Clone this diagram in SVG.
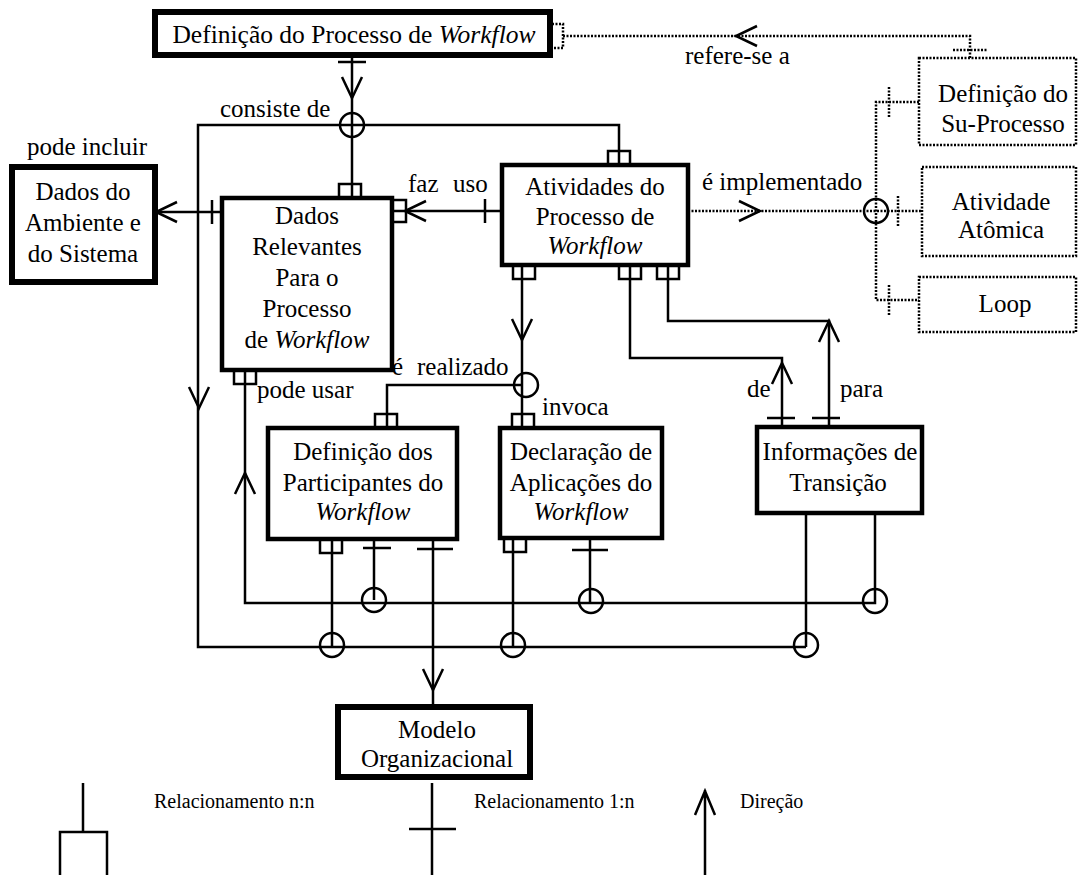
<svg xmlns="http://www.w3.org/2000/svg" width="1078" height="875" viewBox="0 0 1078 875" font-family="'Liberation Serif', 'Times New Roman', 'DejaVu Serif', serif">
<style>
  .bx{fill:#fff;stroke:#000;stroke-width:4.5}
  .bk{fill:#fff;stroke:#000;stroke-width:6}
  .db{fill:#fff;stroke:#000;stroke-width:2.5;stroke-dasharray:2 1.5}
  .dt{stroke-dasharray:2 1.5}
  text{font-family:'Liberation Serif','Times New Roman','DejaVu Serif',serif;font-size:25px;fill:#000}
  .m{text-anchor:middle}
  .i{font-style:italic}
  .lg{font-size:20px}
</style>
<defs>
  <!-- open arrowhead, tip at origin, pointing down -->
  <path id="hd" d="M-10,-21 L0,0 L10,-21"/>
  <!-- n:n foot, opening onto the box edge at y=0 -->
  <path id="nn" d="M-11,0 V-14 H11 V0"/>
  <!-- 1:n crossbar -->
  <path id="cb" d="M-14,0 H14"/>
  <circle id="ci" r="12"/>
</defs>

<rect width="1078" height="875" fill="#fff"/>

<g id="connectors" fill="none" stroke="#000" stroke-width="2.5">
  <!-- consiste de -->
  <path d="M352,55 V198"/>
  <use href="#cb" x="352" y="62"/>
  <use href="#hd" transform="translate(352,98)"/>
  <use href="#ci" x="352" y="125"/>
  <use href="#nn" transform="translate(350,198)"/>
  <path d="M806,647 H198 V125 H619 V165"/>
  <use href="#hd" transform="translate(199,408)"/>
  <use href="#nn" transform="translate(619,165)"/>

  <!-- pode incluir -->
  <path d="M222,212 H155"/>
  <path d="M212,200 V224"/>
  <use href="#hd" transform="translate(156,212) rotate(90)"/>

  <!-- faz uso -->
  <path d="M502,211 H392"/>
  <use href="#nn" transform="translate(392,211) rotate(90)"/>
  <use href="#hd" transform="translate(405,211) rotate(90)"/>
  <path d="M485,199 V223"/>

  <!-- é implementado (dotted) -->
  <path class="dt" d="M688,211 H922"/>
  <use href="#hd" transform="translate(760,211) rotate(-90)"/>
  <use href="#ci" x="876" y="211"/>
  <path class="dt" d="M898,196 V226"/>
  <path class="dt" d="M919,102 H876 V300 H919"/>
  <path class="dt" d="M889,87 V118"/>
  <path class="dt" d="M889,285 V316"/>

  <!-- refere-se a (dotted) -->
  <path class="dt" d="M552,24 H563 V48 H552 M563,36 H970 V58"/>
  <path class="dt" d="M953,50 H988"/>
  <use href="#hd" transform="translate(736,36) rotate(90)"/>

  <!-- é realizado / invoca -->
  <path d="M522,265 V428"/>
  <use href="#nn" transform="translate(524,265) rotate(180)"/>
  <use href="#hd" transform="translate(522,340)"/>
  <use href="#ci" x="526" y="385"/>
  <use href="#nn" transform="translate(523,428)"/>
  <path d="M522,385 H387 V428"/>
  <use href="#nn" transform="translate(386,428)"/>

  <!-- de / para -->
  <path d="M630,265 V358 H782 V427"/>
  <use href="#nn" transform="translate(630,265) rotate(180)"/>
  <use href="#hd" transform="translate(782,363) rotate(180)"/>
  <use href="#cb" x="781" y="418"/>
  <path d="M668,265 V321 H829 V427"/>
  <use href="#nn" transform="translate(668,265) rotate(180)"/>
  <use href="#hd" transform="translate(829,321) rotate(180)"/>
  <use href="#cb" x="826" y="418"/>

  <!-- pode usar -->
  <path d="M245,370 V603 H875 V513"/>
  <use href="#nn" transform="translate(245,370) rotate(180)"/>
  <use href="#hd" transform="translate(245,473) rotate(180)"/>

  <!-- participantes -->
  <path d="M374,539 V600"/>
  <use href="#cb" x="377" y="548"/>
  <use href="#ci" x="374" y="600"/>
  <path d="M332,539 V647"/>
  <use href="#nn" transform="translate(331,539) rotate(180)"/>
  <use href="#ci" x="332" y="645"/>
  <path d="M433,539 V707"/>
  <path d="M417,549 H453"/>
  <use href="#hd" transform="translate(433,690)"/>

  <!-- aplicações -->
  <path d="M513,538 V647"/>
  <use href="#nn" transform="translate(515,538) rotate(180)"/>
  <use href="#ci" x="513" y="645"/>
  <path d="M590,538 V603"/>
  <path d="M572,550 H608"/>
  <use href="#ci" x="591" y="601"/>

  <!-- transição -->
  <path d="M806,513 V647"/>
  <use href="#ci" x="806" y="645"/>
  <use href="#ci" x="875" y="601"/>
</g>

<g id="n-definicao-processo">
  <rect class="bk" x="155" y="12" width="395" height="43"/>
  <text class="m" x="354" y="43" style="font-size:25.5px">Definição do Processo de <tspan class="i">Workflow</tspan></text>
</g>
<g id="n-dados-ambiente">
  <rect class="bk" x="12" y="167" width="143" height="115"/>
  <text class="m" x="83" y="200">Dados do</text>
  <text class="m" x="83" y="231">Ambiente e</text>
  <text class="m" x="83" y="262">do Sistema</text>
</g>
<g id="n-dados-relevantes">
  <rect class="bx" x="222" y="198" width="170" height="172"/>
  <text class="m" x="307" y="224">Dados</text>
  <text class="m" x="307" y="255">Relevantes</text>
  <text class="m" x="307" y="286">Para o</text>
  <text class="m" x="307" y="317">Processo</text>
  <text class="m" x="307" y="348">de <tspan class="i">Workflow</tspan></text>
</g>
<g id="n-atividades">
  <rect class="bx" x="502" y="165" width="186" height="100"/>
  <text class="m" x="595" y="195">Atividades do</text>
  <text class="m" x="595" y="225">Processo de</text>
  <text class="m i" x="595" y="254">Workflow</text>
</g>
<g id="n-participantes">
  <rect class="bx" x="268" y="428" width="189" height="111"/>
  <text class="m" x="363" y="460">Definição dos</text>
  <text class="m" x="363" y="491">Participantes do</text>
  <text class="m i" x="363" y="520">Workflow</text>
</g>
<g id="n-aplicacoes">
  <rect class="bx" x="500" y="428" width="162" height="110"/>
  <text class="m" x="581" y="460">Declaração de</text>
  <text class="m" x="581" y="491">Aplicações do</text>
  <text class="m i" x="581" y="520">Workflow</text>
</g>
<g id="n-transicao">
  <rect class="bx" x="757" y="427" width="165" height="86"/>
  <text class="m" x="840" y="460">Informações de</text>
  <text class="m" x="838" y="491">Transição</text>
</g>
<g id="n-modelo">
  <rect class="bk" x="338" y="707" width="192" height="70"/>
  <text class="m" x="437" y="738">Modelo</text>
  <text class="m" x="437" y="767">Organizacional</text>
</g>
<g id="n-subprocesso">
  <rect class="db" x="919" y="58" width="157" height="87"/>
  <text class="m" x="1003" y="102">Definição do</text>
  <text class="m" x="1003" y="132">Su-Processo</text>
</g>
<g id="n-atomica">
  <rect class="db" x="922" y="167" width="154" height="89"/>
  <text class="m" x="1001" y="210">Atividade</text>
  <text class="m" x="1001" y="238">Atômica</text>
</g>
<g id="n-loop">
  <rect class="db" x="919" y="277" width="157" height="55"/>
  <text class="m" x="1005" y="312">Loop</text>
</g>

<g id="labels">
  <text x="685" y="64">refere-se a</text>
  <text x="220" y="117">consiste de</text>
  <text x="27" y="155">pode incluir</text>
  <text x="408" y="192">faz</text>
  <text x="453" y="192">uso</text>
  <text x="702" y="190">é implementado</text>
  <text x="392" y="375">é</text>
  <text x="417" y="375">realizado</text>
  <text x="257" y="398">pode usar</text>
  <text x="542" y="415">invoca</text>
  <text x="747" y="397">de</text>
  <text x="840" y="397">para</text>
</g>

<g id="legend" fill="none" stroke="#000" stroke-width="2.5">
  <path d="M83,783 V832 M60,877 V832 H107 V877"/>
  <path d="M432,783 V877 M409,829 H456"/>
  <path d="M705,790 V877 M695,815 L705,791 L715,815"/>
  <g stroke="none" fill="#000">
    <text class="lg" x="154" y="808">Relacionamento n:n</text>
    <text class="lg" x="474" y="808">Relacionamento 1:n</text>
    <text class="lg" x="740" y="808">Direção</text>
  </g>
</g>
</svg>
